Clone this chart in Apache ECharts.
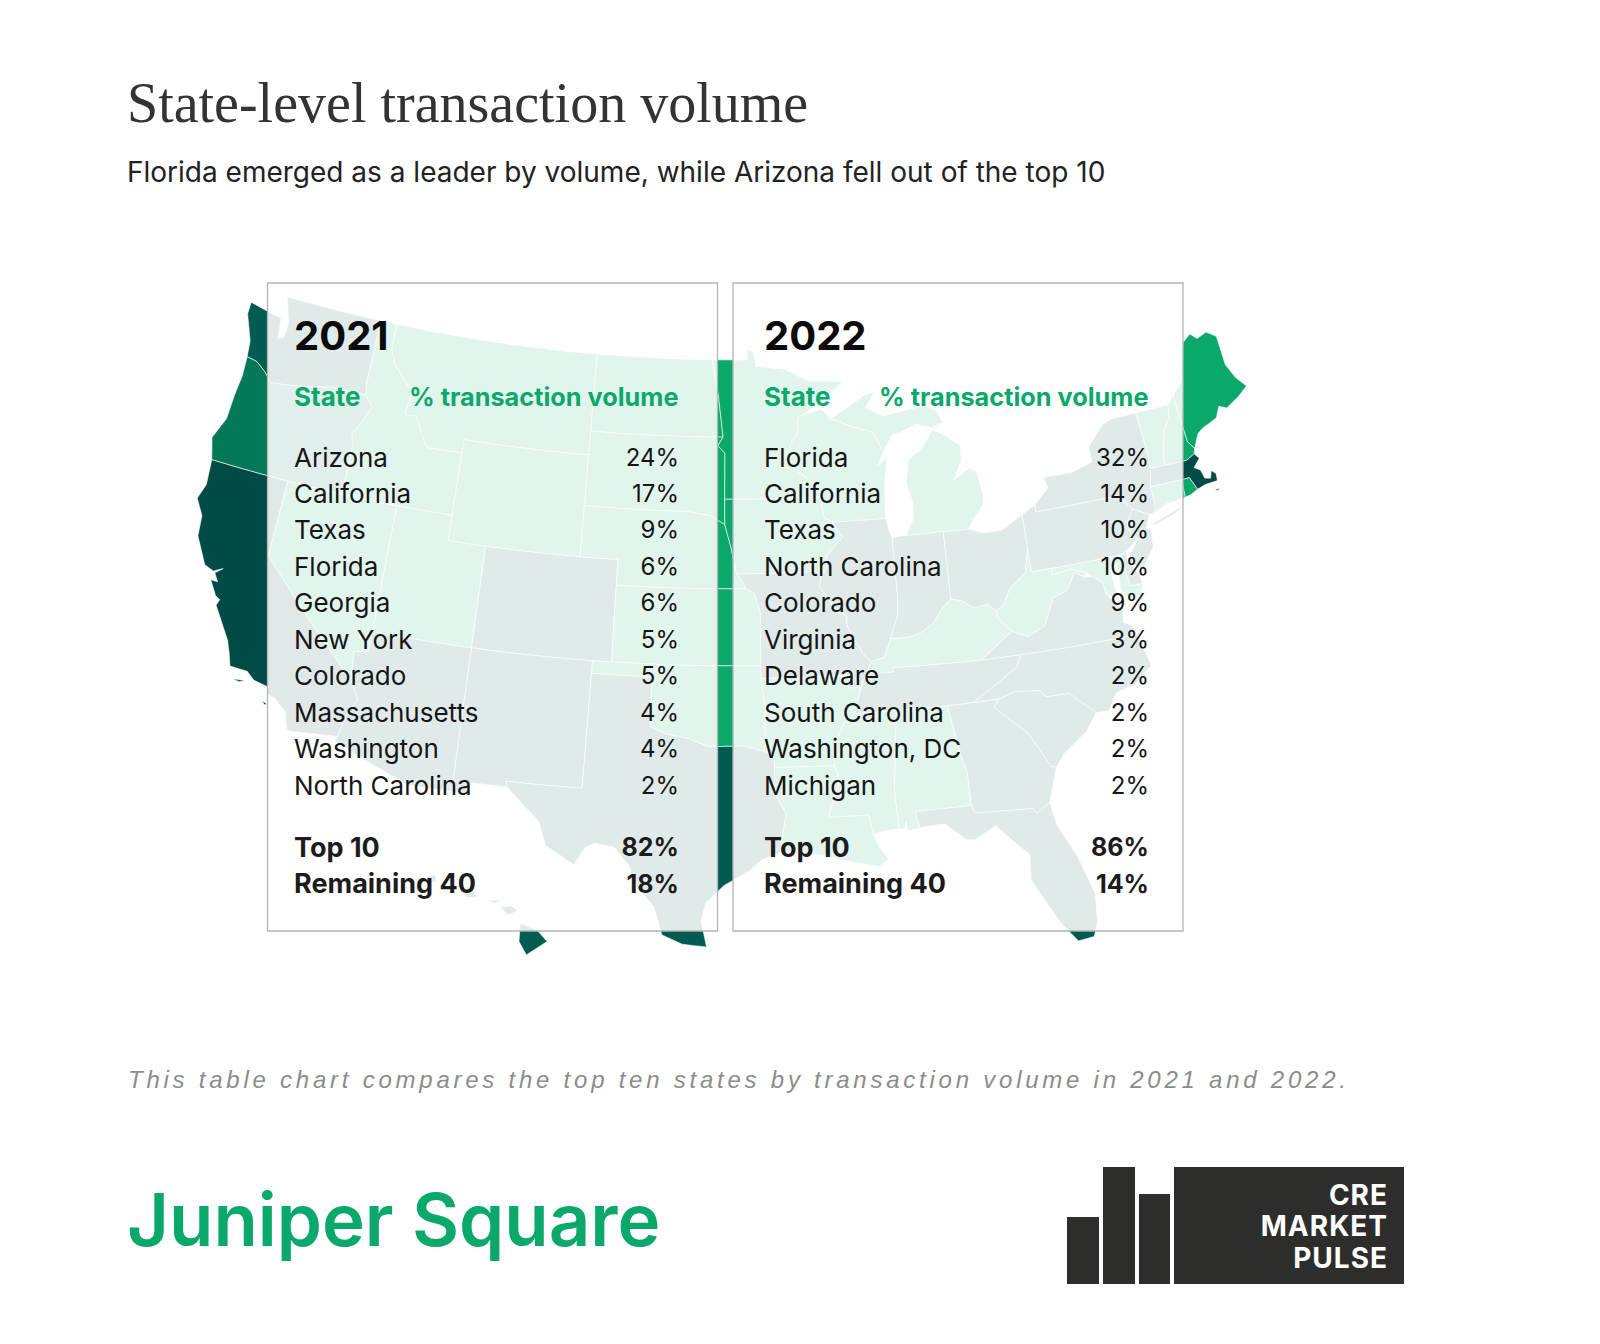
<!DOCTYPE html>
<html>
<head>
<meta charset="UTF-8">
<title>State-level transaction volume</title>
<script src="https://cdn.jsdelivr.net/npm/echarts@6/dist/echarts.min.js"></script>
<style>
html,body{margin:0;padding:0;background:#fff}
#main{width:1600px;height:1344px}
</style>
</head>
<body>
<div id="main"></div>
<script>
var states2021 = ['Arizona','California','Texas','Florida','Georgia','New York','Colorado','Massachusetts','Washington','North Carolina'];
var pct2021 = [24,17,9,6,6,5,5,4,4,2];
var totals2021 = [82,18];
var states2022 = ['Florida','California','Texas','North Carolina','Colorado','Virginia','Delaware','South Carolina','Washington, DC','Michigan'];
var pct2022 = [32,14,10,10,9,3,2,2,2,2];
var totals2022 = [86,14];
var totalLabels = ['Top 10','Remaining 40'];

// map shading tiers
var tierDarkest = ['California','Massachusetts'];
var tierDark = ['Washington','Texas','Hawaii','Florida','Arizona','New Mexico','Colorado','Missouri','Illinois','Indiana','Ohio','Pennsylvania','New York','New Jersey','Delaware','Virginia','North Carolina','South Carolina','Georgia','Tennessee'];
var tierMid = ['Oregon'];
var tierBright = ['Maine','Connecticut','Rhode Island','Vermont','New Hampshire','Idaho','Montana','Wyoming','Utah','Nevada','North Dakota','South Dakota','Nebraska','Kansas','Oklahoma','Minnesota','Iowa','Wisconsin','Michigan','Arkansas','Louisiana','Mississippi','Alabama','Kentucky','West Virginia','Maryland'];
var tierColors = ['#004b45','#005c4f','#04795a','#0aa86b'];

// lon/lat outlines, simplified
var statePolys = {
	'Washington': [[[-124.7,48.38],[-123.1,48.15],[-122.75,48.14],[-122.6,47.3],[-122.3,47.4],[-122.25,48],[-122.5,48.5],[-122.76,49],[-117.03,49],[-117.04,46.42],[-116.92,45.99],[-118.98,46],[-119.3,45.93],[-121.2,45.65],[-122.3,45.55],[-122.8,45.9],[-123.4,46.2],[-124,46.27],[-124.1,46.9],[-124.7,47.9]]],
	'Oregon': [[[-124,46.27],[-123.4,46.2],[-122.8,45.9],[-122.3,45.55],[-121.2,45.65],[-119.3,45.93],[-118.98,46],[-116.92,45.99],[-116.46,45.6],[-116.85,44.9],[-117.22,44.4],[-117.03,44],[-117.03,42],[-124.21,42],[-124.55,42.84],[-124.1,43.7],[-124.05,44.7],[-123.95,45.5]]],
	'California': [[[-124.21,42],[-120,42],[-120,39],[-114.63,35],[-114.14,34.3],[-114.5,33.6],[-114.72,32.72],[-117.12,32.53],[-117.25,32.85],[-117.35,33.2],[-118,33.65],[-118.4,33.75],[-118.5,34.03],[-119.2,34.15],[-119.6,34.42],[-120.47,34.45],[-120.65,34.9],[-120.9,35.4],[-121.9,36.6],[-121.8,36.85],[-122.05,36.95],[-122.5,37.5],[-122.15,37.5],[-122.4,37.8],[-122.05,38.05],[-122.5,37.85],[-123,38],[-123.75,39],[-123.85,39.8],[-124.35,40.4],[-124.1,41]],
		[[-120.2,34],[-119.6,34.05],[-119.85,33.95]],[[-118.55,33.45],[-118.3,33.35],[-118.45,33.32]]],
	'Nevada': [[[-120,42],[-114.04,42],[-114.04,36.2],[-114.75,36.1],[-114.63,35],[-120,39]]],
	'Idaho': [[[-117.03,49],[-116.05,49],[-116.05,48],[-115.7,47.45],[-114.7,46.7],[-114.35,46.65],[-114.55,45.56],[-113.9,45.6],[-113.45,44.95],[-113,44.45],[-111.05,44.48],[-111.05,42],[-117.03,42],[-117.03,44],[-117.22,44.4],[-116.85,44.9],[-116.46,45.6],[-116.92,45.99],[-117.04,46.42]]],
	'Montana': [[[-116.05,49],[-104.05,49],[-104.05,45],[-111.05,45],[-111.05,44.48],[-113,44.45],[-113.45,44.95],[-113.9,45.6],[-114.55,45.56],[-114.35,46.65],[-114.7,46.7],[-115.7,47.45],[-116.05,48]]],
	'Wyoming': [[[-111.05,45],[-104.05,45],[-104.05,41],[-111.05,41]]],
	'Utah': [[[-114.04,42],[-111.05,42],[-111.05,41],[-109.05,41],[-109.05,37],[-114.04,37]]],
	'Colorado': [[[-109.05,41],[-102.05,41],[-102.05,37],[-109.05,37]]],
	'Arizona': [[[-114.04,37],[-109.05,37],[-109.05,31.33],[-111.07,31.33],[-114.81,32.5],[-114.72,32.72],[-114.5,33.6],[-114.14,34.3],[-114.63,35],[-114.75,36.1],[-114.04,36.2]]],
	'New Mexico': [[[-109.05,37],[-103,37],[-103.04,32],[-106.62,32],[-106.53,31.78],[-108.2,31.78],[-108.2,31.33],[-109.05,31.33]]],
	'North Dakota': [[[-104.05,49],[-97.23,49],[-96.85,47.6],[-96.56,45.94],[-104.05,45.94]]],
	'South Dakota': [[[-104.05,45.94],[-96.56,45.94],[-96.85,45.6],[-96.45,45.3],[-96.45,43.5],[-96.44,42.5],[-97.2,42.85],[-98.5,43],[-104.05,43]]],
	'Nebraska': [[[-104.05,43],[-98.5,43],[-97.2,42.85],[-96.44,42.5],[-96.1,41.6],[-95.85,40.7],[-95.31,40],[-102.05,40],[-102.05,41],[-104.05,41]]],
	'Kansas': [[[-102.05,40],[-95.31,40],[-94.9,39.8],[-94.6,39.1],[-94.62,37],[-102.05,37]]],
	'Oklahoma': [[[-103,37],[-94.62,37],[-94.62,36.5],[-94.43,35.4],[-94.48,33.64],[-95.5,33.88],[-96.6,33.85],[-97.2,33.85],[-98.1,34.13],[-99.2,34.3],[-100,34.56],[-100,36.5],[-103,36.5]]],
	'Texas': [[[-103,36.5],[-100,36.5],[-100,34.56],[-99.2,34.3],[-98.1,34.13],[-97.2,33.85],[-96.6,33.85],[-95.5,33.88],[-94.48,33.64],[-94.04,33.55],[-94.04,31.99],[-93.55,31.2],[-93.7,30.5],[-93.84,29.7],[-94.7,29.4],[-95.3,28.95],[-96.4,28.4],[-97.2,27.7],[-97.4,27],[-97.15,25.96],[-98.2,26.05],[-99.1,26.4],[-99.5,27.5],[-100.3,28.3],[-100.7,29.1],[-101.4,29.77],[-102.3,29.88],[-102.7,29.7],[-103.15,28.98],[-104.5,29.65],[-104.9,30.55],[-106.53,31.78],[-106.62,32],[-103.04,32]]],
	'Minnesota': [[[-97.23,49],[-95.15,49],[-95.15,49.38],[-94.8,49.33],[-94.65,48.74],[-93,48.6],[-91.5,48.07],[-89.6,48],[-90.8,47.3],[-92.05,46.75],[-92.3,46.65],[-92.3,46.1],[-92.8,45.6],[-92.75,44.75],[-91.25,43.85],[-91.22,43.5],[-96.45,43.5],[-96.45,45.3],[-96.85,45.6],[-96.56,45.94],[-96.85,47.6]]],
	'Iowa': [[[-96.45,43.5],[-91.22,43.5],[-91.1,42.7],[-90.64,42.5],[-90.15,41.9],[-91.05,41.2],[-91.1,40.7],[-91.42,40.38],[-91.7,40.6],[-95.77,40.58],[-95.85,40.7],[-96.1,41.6],[-96.44,42.5]]],
	'Missouri': [[[-95.77,40.58],[-91.7,40.6],[-91.42,40.38],[-91.5,40],[-90.7,39],[-90.2,38.8],[-90.2,38.4],[-89.5,37.3],[-89.13,36.98],[-89.4,36.5],[-89.7,36],[-90.37,36],[-90.15,36.5],[-94.62,36.5],[-94.62,37],[-94.6,39.1],[-94.9,39.8],[-95.31,40]]],
	'Arkansas': [[[-94.62,36.5],[-90.15,36.5],[-90.37,36],[-89.7,36],[-90.1,35],[-90.6,34.7],[-91.1,33.9],[-91.2,33],[-94.04,33.02],[-94.04,33.55],[-94.48,33.64],[-94.43,35.4]]],
	'Louisiana': [[[-94.04,33.02],[-91.2,33],[-91,32.4],[-91.6,31],[-89.73,31],[-89.6,30.2],[-89.4,29.8],[-89,29.2],[-89.4,28.95],[-90.2,29.1],[-91.2,29.3],[-91.8,29.5],[-92.3,29.55],[-93.2,29.78],[-93.84,29.7],[-93.7,30.5],[-93.55,31.2],[-94.04,31.99]]],
	'Mississippi': [[[-90.1,35],[-88.2,35],[-88.1,34.9],[-88.47,31.9],[-88.4,30.37],[-89.3,30.3],[-89.6,30.2],[-89.73,31],[-91.6,31],[-91,32.4],[-91.2,33],[-91.1,33.9],[-90.6,34.7]]],
	'Alabama': [[[-88.2,35],[-85.6,34.98],[-85.18,32.87],[-85,32.3],[-85,31],[-87.6,31],[-87.45,30.35],[-88,30.25],[-88.05,30.65],[-88.15,30.35],[-88.4,30.37],[-88.47,31.9],[-88.1,34.9]]],
	'Tennessee': [[[-89.7,36],[-89.4,36.5],[-88.05,36.5],[-88.07,36.68],[-83.68,36.6],[-81.68,36.59],[-82,36.12],[-84.32,35],[-85.6,34.98],[-88.2,35],[-90.1,35]]],
	'Kentucky': [[[-89.13,36.98],[-89.4,36.5],[-88.05,36.5],[-88.07,36.68],[-83.68,36.6],[-81.97,37.54],[-82.6,38.17],[-82.6,38.42],[-83,38.73],[-83.7,38.65],[-84.3,39],[-84.82,39.1],[-85.4,38.73],[-85.8,38.28],[-86.5,37.95],[-87.1,37.8],[-88.07,37.8],[-88.45,37.1]]],
	'Illinois': [[[-90.64,42.5],[-87.8,42.5],[-87.6,41.85],[-87.53,41.7],[-87.53,39.35],[-87.6,38.7],[-88.07,37.8],[-88.45,37.1],[-89.13,36.98],[-89.5,37.3],[-90.2,38.4],[-90.2,38.8],[-90.7,39],[-91.5,40],[-91.42,40.38],[-91.1,40.7],[-91.05,41.2],[-90.15,41.9]]],
	'Indiana': [[[-87.53,41.7],[-87.2,41.75],[-86.8,41.76],[-84.8,41.76],[-84.82,39.1],[-85.4,38.73],[-85.8,38.28],[-86.5,37.95],[-87.1,37.8],[-88.07,37.8],[-87.6,38.7],[-87.53,39.35]]],
	'Ohio': [[[-84.8,41.76],[-83.45,41.72],[-82.7,41.5],[-81.7,41.5],[-80.52,41.98],[-80.52,40.64],[-80.85,39.7],[-81.75,39.2],[-82.2,38.6],[-82.6,38.42],[-83,38.73],[-83.7,38.65],[-84.3,39],[-84.82,39.1]]],
	'Michigan': [[[-86.8,41.76],[-84.8,41.76],[-83.45,41.72],[-83.15,42.05],[-82.5,42.6],[-82.42,43],[-82.6,43.9],[-83,44.07],[-83.9,43.7],[-83.35,44.4],[-83.3,45],[-84.1,45.5],[-84.75,45.78],[-85.1,45.4],[-85.6,45],[-86.25,44.7],[-86.5,43.8],[-86.25,43],[-86.3,42.4]],
		[[-90.4,46.55],[-88.4,47.4],[-87.8,47.47],[-88.4,46.9],[-87.4,46.5],[-86.2,46.65],[-85,46.75],[-84.4,46.5],[-84.1,46],[-84.75,45.85],[-85.6,46.05],[-86.6,45.8],[-87,45.75],[-87.6,45.1],[-88.1,45.9],[-89.1,46.15]]],
	'Wisconsin': [[[-92.05,46.75],[-90.9,46.95],[-90.4,46.55],[-89.1,46.15],[-88.1,45.9],[-87.6,45.1],[-88,44.55],[-87.4,44.9],[-87.7,43.8],[-87.8,42.5],[-90.64,42.5],[-91.1,42.7],[-91.22,43.5],[-91.25,43.85],[-92.75,44.75],[-92.8,45.6],[-92.3,46.1],[-92.3,46.65]]],
	'Georgia': [[[-85.6,34.98],[-83.1,35],[-83.35,34.7],[-81.9,33.5],[-81.1,32.1],[-80.85,32.03],[-81.4,30.72],[-82.05,30.36],[-82.2,30.57],[-84.86,30.7],[-85,31],[-85,32.3],[-85.18,32.87]]],
	'Florida': [[[-87.6,31],[-85,31],[-84.86,30.7],[-82.2,30.57],[-82.05,30.36],[-81.4,30.72],[-81.25,29.8],[-80.55,28.45],[-80.05,26.9],[-80.15,25.75],[-80.4,25.2],[-81.1,25.13],[-81.7,25.9],[-82.15,26.7],[-82.75,27.8],[-82.65,28.8],[-83.3,29.4],[-84,30.1],[-85,29.65],[-85.4,29.7],[-86.3,30.4],[-87.45,30.35]]],
	'South Carolina': [[[-83.1,35],[-82.3,35.2],[-81.05,35.1],[-80.8,34.82],[-79.67,34.8],[-78.55,33.86],[-79.2,33.2],[-80.4,32.5],[-80.85,32.03],[-81.1,32.1],[-81.9,33.5],[-83.35,34.7]]],
	'North Carolina': [[[-84.32,35],[-83.1,35],[-82.3,35.2],[-81.05,35.1],[-80.8,34.82],[-79.67,34.8],[-78.55,33.86],[-77.95,33.85],[-77.4,34.5],[-76.5,34.65],[-75.5,35.25],[-75.75,36.2],[-75.87,36.55],[-81.68,36.59],[-82,36.12]]],
	'Virginia': [[[-83.68,36.6],[-81.68,36.59],[-75.87,36.55],[-76,36.95],[-76.4,37.1],[-76.3,37.6],[-76.95,38.3],[-77.05,38.85],[-77.5,39.12],[-77.85,39.14],[-78.35,39.4],[-78.87,38.77],[-79.65,38.58],[-80.3,37.55],[-81.2,37.25],[-81.97,37.54]]],
	'West Virginia': [[[-81.97,37.54],[-81.2,37.25],[-80.3,37.55],[-79.65,38.58],[-78.87,38.77],[-78.35,39.4],[-77.85,39.14],[-77.75,39.32],[-78.45,39.55],[-79.48,39.47],[-79.48,39.72],[-80.52,39.72],[-80.52,40.64],[-80.85,39.7],[-81.75,39.2],[-82.2,38.6],[-82.6,38.42],[-82.6,38.17]]],
	'Maryland': [[[-79.48,39.72],[-75.79,39.72],[-75.69,38.46],[-75.05,38.45],[-75.25,38.03],[-75.9,37.95],[-76.2,38.4],[-76.1,39.4],[-76.5,39.2],[-76.45,38.4],[-76.35,38.05],[-76.95,38.3],[-77.05,38.85],[-77.5,39.12],[-77.75,39.32],[-78.45,39.55],[-79.48,39.47]]],
	'Delaware': [[[-75.79,39.72],[-75.5,39.83],[-75.55,39.45],[-75.1,38.8],[-75.05,38.45],[-75.69,38.46]]],
	'Pennsylvania': [[[-80.52,41.98],[-79.76,42.27],[-79.76,42],[-75.35,42],[-74.7,41.36],[-75.1,40.95],[-75.2,40.65],[-74.75,40.2],[-75.5,39.83],[-75.79,39.72],[-80.52,39.72]]],
	'New Jersey': [[[-74.7,41.36],[-73.9,41],[-74.25,40.5],[-74,40.45],[-74.1,39.75],[-74.9,38.95],[-75.55,39.5],[-74.75,40.2],[-75.2,40.65],[-75.1,40.95]]],
	'New York': [[[-79.76,42.27],[-78.9,42.85],[-79.05,43.27],[-77.5,43.25],[-76.3,43.5],[-76.3,44.1],[-75.3,44.85],[-74.7,45],[-73.35,45],[-73.25,43.6],[-73.27,42.75],[-73.5,42.05],[-73.5,41.3],[-73.65,41],[-73.9,41],[-74.7,41.36],[-75.35,42],[-79.76,42]],
		[[-74,40.6],[-72,41.05],[-72.6,40.8],[-73.6,40.58]]],
	'Vermont': [[[-73.35,45],[-71.5,45],[-71.6,44.5],[-72.05,44.1],[-72.45,43],[-72.46,42.73],[-73.27,42.75],[-73.25,43.6]]],
	'New Hampshire': [[[-71.5,45],[-71.08,45.3],[-70.98,43.4],[-70.7,43.07],[-70.8,42.87],[-71.3,42.7],[-72.46,42.73],[-72.45,43],[-72.05,44.1],[-71.6,44.5]]],
	'Maine': [[[-71.08,45.3],[-70.4,45.75],[-70.25,46.2],[-70,46.7],[-69.75,47.2],[-69.23,47.46],[-68.9,47.2],[-68.3,47.35],[-67.8,47.07],[-67.78,45.9],[-67.45,45.3],[-67,44.85],[-67.6,44.55],[-68,44.4],[-68.4,44.25],[-68.8,44.4],[-69.1,44],[-69.6,43.85],[-70,43.75],[-70.3,43.6],[-70.7,43.07],[-70.98,43.4]]],
	'Massachusetts': [[[-73.5,42.05],[-71.8,42.02],[-71.38,42.02],[-71.12,41.5],[-70.65,41.6],[-69.98,41.62],[-69.95,41.9],[-70.15,42.07],[-70.3,41.78],[-70.6,41.85],[-70.7,42.2],[-71,42.35],[-70.6,42.65],[-70.8,42.87],[-71.3,42.7],[-72.46,42.73],[-73.27,42.75]],
		[[-70.25,41.32],[-69.98,41.3],[-70.08,41.24]]],
	'Connecticut': [[[-73.5,42.05],[-71.8,42.02],[-71.85,41.32],[-72.9,41.25],[-73.65,41],[-73.5,41.3]]],
	'Rhode Island': [[[-71.8,42.02],[-71.38,42.02],[-71.12,41.5],[-71.5,41.37],[-71.85,41.32]]],
	'Hawaii': [[[-155.9,20.25],[-155.2,19.95],[-154.8,19.5],[-155.65,18.95],[-155.95,19.5]],
		[[-156.7,20.9],[-156.25,20.95],[-156,20.75],[-156.4,20.58]],
		[[-157.3,21.2],[-156.75,21.17],[-156.9,21.05]],
		[[-158.27,21.55],[-157.97,21.7],[-157.65,21.3],[-158.1,21.3]],
		[[-159.75,22.1],[-159.4,22.23],[-159.3,21.95],[-159.6,21.9]]]
};

// albers conic, in page pixels
var mapScale = 1456, mapCx = 733, mapCy = 653;
var rad = Math.PI / 180;
var n = (Math.sin(29.5 * rad) + Math.sin(45.5 * rad)) / 2;
var c = Math.pow(Math.cos(29.5 * rad), 2) + 2 * n * Math.sin(29.5 * rad);
var rho0 = Math.sqrt(c - 2 * n * Math.sin(37.5 * rad)) / n;
// hawaii inset
var hiX = 530, hiY = 939, hiScale = 24.5;

function project(p) {
	if (p[0] < -150) {
		return [hiX + (p[0] + 155.5) * hiScale, hiY - (p[1] - 19.6) * hiScale];
	}
	var rho = Math.sqrt(c - 2 * n * Math.sin(p[1] * rad)) / n;
	var th = n * (p[0] + 96) * rad;
	return [mapCx + mapScale * rho * Math.sin(th), mapCy - mapScale * (rho0 - rho * Math.cos(th))];
}
function unproject(q) {
	var x = (q[0] - mapCx) / mapScale, y = rho0 + (q[1] - mapCy) / mapScale;
	var rho = Math.sqrt(x * x + y * y);
	return [Math.atan2(x, y) / n / rad - 96, Math.asin((c - rho * rho * n * n) / (2 * n)) / rad];
}

// long straight borders need extra vertices so they bend with the projection
function bend(ring) {
	var out = [];
	ring.forEach(function (a, i) {
		var b = ring[(i + 1) % ring.length];
		var k = Math.ceil(Math.abs(b[0] - a[0]));
		for (var j = 0; j < Math.max(k, 1); j++) {
			out.push([a[0] + (b[0] - a[0]) * j / Math.max(k, 1), a[1] + (b[1] - a[1]) * j / Math.max(k, 1)]);
		}
	});
	out.push(out[0]);
	return out;
}

var features = [];
var minX = 1e9, minY = 1e9, maxX = -1e9;
Object.keys(statePolys).forEach(function (name) {
	var polys = statePolys[name].map(function (r) { return [bend(r)]; });
	polys.forEach(function (pg) {
		pg[0].forEach(function (pt) {
			var q = project(pt);
			minX = Math.min(minX, q[0]); minY = Math.min(minY, q[1]); maxX = Math.max(maxX, q[0]);
		});
	});
	features.push({ type: 'Feature', properties: { name: name }, geometry: { type: 'MultiPolygon', coordinates: polys } });
});
echarts.registerMap('usa', { type: 'FeatureCollection', features: features });

var mapData = [];
[tierDarkest, tierDark, tierMid, tierBright].forEach(function (tier, i) {
	tier.forEach(function (name) {
		mapData.push({ name: name, value: i, itemStyle: { areaColor: tierColors[i] } });
	});
});

var rowFont = '"Inter", sans-serif';
var graphics = [];
function txt(s, x, y, size, weight, color, align, family, style) {
	graphics.push({
		type: 'text', z: 110, silent: true,
		style: { text: s, x: x, y: y, fontSize: size, fontWeight: weight, fontFamily: family || rowFont, fontStyle: style || 'normal', fill: color, align: align || 'left', verticalAlign: 'middle' }
	});
}
function panel(x, textL, textR, year, names, pcts, totals) {
	graphics.push({
		type: 'rect', z: 100, silent: true,
		shape: { x: x, y: 283, width: 450, height: 648 },
		style: { fill: 'rgba(255,255,255,0.88)', stroke: '#b4b4b4', lineWidth: 1.3 }
	});
	txt(year, textL, 335, 40, 700, '#0b0b0b');
	txt('State', textL, 396, 26, 700, '#0aa86b');
	txt('% transaction volume', textR - 0.5, 396, 25.3, 700, '#0aa86b', 'right');
	names.forEach(function (s, i) {
		txt(s, textL, 457 + i * 36.45, 26, 400, '#161616');
		txt(pcts[i] + '%', textR, 457 + i * 36.45, 24, 400, '#161616', 'right');
	});
	totalLabels.forEach(function (s, i) {
		txt(s, textL, 847 + i * 36.5, 27, 700, '#1c1c1c');
		txt(totals[i] + '%', textR, 847 + i * 36.5, 25, 700, '#1c1c1c', 'right');
	});
}
panel(267.5, 294, 679, '2021', states2021, pct2021, totals2021);
panel(733, 764, 1149, '2022', states2022, pct2022, totals2022);

var captionText = 'This table chart compares the top ten states by transaction volume in 2021 and 2022.';
txt('State-level transaction volume', 127, 103, 56, 400, '#333333', 'left', '"Liberation Serif", serif');
txt('Florida emerged as a leader by volume, while Arizona fell out of the top 10', 127, 172, 28, 400, '#222222');
txt(captionText, 128, 1079, 24, 400, '#8c8c8c', 'left', '"Liberation Sans", sans-serif', 'italic');
txt('Juniper Square', 127, 1219, 72.5, 600, '#0aa86b');

// logo blocks
[[1067, 1217, 32, 67], [1103, 1167, 32, 117], [1139, 1194, 31, 90], [1174, 1167, 230, 117]].forEach(function (b) {
	graphics.push({ type: 'rect', z: 100, silent: true, shape: { x: b[0], y: b[1], width: b[2], height: b[3] }, style: { fill: '#2d2d2b' } });
});
var logoLines = ['CRE','MARKET','PULSE'];
logoLines.forEach(function (s, i) {
	txt(s, 1388, 1195 + i * 31.3, 28, 700, '#ffffff', 'right');
});

var myChart = echarts.init(document.getElementById('main'), null, { renderer: 'svg' });
myChart.setOption({
	backgroundColor: '#ffffff',
	animation: false,
	series: [{
		type: 'map',
		map: 'usa',
		silent: true,
		roam: false,
		projection: { project: project, unproject: unproject },
		left: minX,
		top: minY,
		width: maxX - minX,
		label: { show: false },
		itemStyle: { borderColor: 'rgba(255,255,255,0.6)', borderWidth: 1 },
		data: mapData
	}],
	graphic: graphics
});

// zrender has no tracking option, so set it on the svg text nodes
function track() {
	document.querySelectorAll('#main svg text').forEach(function (t) {
		if (t.textContent === captionText) t.style.letterSpacing = '3.76px';
		if (logoLines.indexOf(t.textContent) >= 0) t.style.letterSpacing = '1px';
	});
}
track();
myChart.on('finished', track);
</script>
</body>
</html>
